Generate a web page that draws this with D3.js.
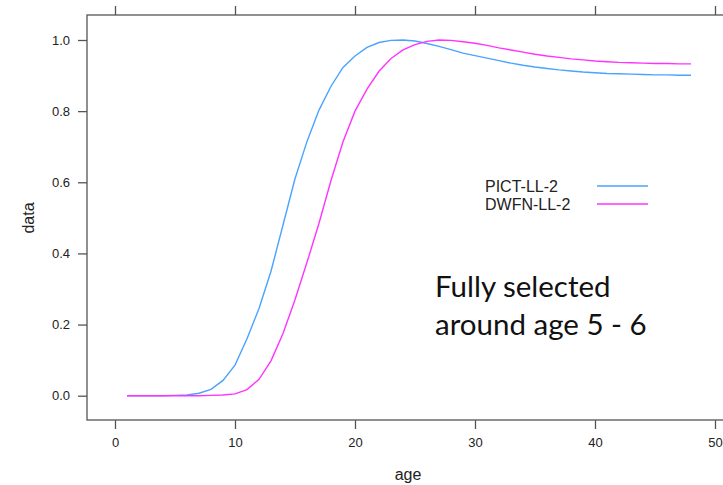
<!DOCTYPE html>
<html>
<head>
<meta charset="utf-8">
<script src="https://cdn.jsdelivr.net/npm/d3@7"></script>
<style>
  body { margin: 0; background: #fff; }
  svg { display: block; }
</style>
</head>
<body>
<div id="chart"></div>
<script>
// ages 1..48
var ages = d3.range(1, 49);

var pictValues = [
  0, 0, 0, 0, 0.001, 0.002, 0.007, 0.018, 0.043, 0.086,
  0.16, 0.245, 0.35, 0.48, 0.61, 0.715, 0.803, 0.87, 0.923, 0.955,
  0.979, 0.993, 0.999, 1.0, 0.997, 0.99, 0.982, 0.973, 0.963, 0.956,
  0.949, 0.942, 0.935, 0.929, 0.924, 0.92, 0.916, 0.913, 0.91, 0.908,
  0.906, 0.905, 0.904, 0.903, 0.902, 0.902, 0.901, 0.901
];

var dwfnValues = [
  0, 0, 0, 0, 0, 0, 0, 0.001, 0.002, 0.005,
  0.017, 0.046, 0.098, 0.175, 0.27, 0.375, 0.485, 0.605, 0.714, 0.8,
  0.862, 0.912, 0.948, 0.972, 0.987, 0.996, 1.0, 0.999, 0.995, 0.991,
  0.985, 0.978, 0.972, 0.966, 0.96, 0.955, 0.951, 0.947, 0.944, 0.941,
  0.939, 0.937, 0.936, 0.935, 0.934, 0.934, 0.933, 0.933
];

var seriesNames = ["PICT-LL-2", "DWFN-LL-2"];
var seriesColors = ["#4aa3ff", "#ff33ff"];
var xTicks = [0, 10, 20, 30, 40, 50];
var yTicks = [0.0, 0.2, 0.4, 0.6, 0.8, 1.0];
var noteLines = ["Fully selected", "around age 5 - 6"];

var width = 723, height = 485;
var box = {left: 87, top: 15, right: 745, bottom: 420};

var x = d3.scaleLinear().domain([0, 50]).range([115, 715]);
var y = d3.scaleLinear().domain([0, 1]).range([395.7, 40]);

var svg = d3.select("#chart").append("svg")
    .attr("width", width)
    .attr("height", height);

var axisColor = "#555";
var labelFont = "Liberation Sans, Arial, sans-serif";

// panel border
svg.append("rect")
    .attr("x", box.left)
    .attr("y", box.top)
    .attr("width", box.right - box.left)
    .attr("height", box.bottom - box.top)
    .style("fill", "none")
    .style("stroke", axisColor)
    .style("stroke-width", 1.3);

// bottom axis with labels
var bottomAxis = svg.append("g")
    .attr("transform", "translate(0," + box.bottom + ")")
    .call(d3.axisBottom(x).tickValues(xTicks).tickSize(9).tickPadding(9).tickFormat(d3.format("d")));

// top axis, ticks only
var topAxis = svg.append("g")
    .attr("transform", "translate(0," + box.top + ")")
    .call(d3.axisTop(x).tickValues(xTicks).tickSize(9).tickFormat(""));

// left axis
var leftAxis = svg.append("g")
    .attr("transform", "translate(" + box.left + ",0)")
    .call(d3.axisLeft(y).tickValues(yTicks).tickSize(9).tickPadding(8).tickFormat(d3.format(".1f")));

[bottomAxis, topAxis, leftAxis].forEach(function (g) {
    g.select(".domain").remove();
    g.selectAll(".tick line").style("stroke", axisColor).style("stroke-width", 1.3);
    g.selectAll(".tick text")
        .style("font-family", labelFont)
        .style("font-size", "13px")
        .style("fill", "#222");
});

// axis titles
svg.append("text")
    .attr("x", 408)
    .attr("y", 480)
    .attr("text-anchor", "middle")
    .style("font-family", labelFont)
    .style("font-size", "16px")
    .style("fill", "#222")
    .text("age");

svg.append("text")
    .attr("transform", "translate(34,218) rotate(-90)")
    .attr("text-anchor", "middle")
    .style("font-family", labelFont)
    .style("font-size", "16px")
    .style("fill", "#222")
    .text("data");

// curves
var seriesValues = [pictValues, dwfnValues];
var line = d3.line()
    .x(function (d, i) { return x(ages[i]); })
    .y(function (d) { return y(d); });

seriesValues.forEach(function (vals, k) {
    svg.append("path")
        .datum(vals)
        .attr("d", line)
        .style("fill", "none")
        .style("stroke", seriesColors[k])
        .style("stroke-width", 1.4);
});

// legend
seriesNames.forEach(function (name, k) {
    var ly = 186 + k * 18;
    svg.append("text")
        .attr("x", 485)
        .attr("y", ly + 6)
        .style("font-family", labelFont)
        .style("font-size", "16px")
        .style("fill", "#222")
        .text(name);
    svg.append("line")
        .attr("x1", 597)
        .attr("x2", 648)
        .attr("y1", ly)
        .attr("y2", ly)
        .style("stroke", seriesColors[k])
        .style("stroke-width", 1.4);
});

// annotation
svg.selectAll(".note").data(noteLines).enter().append("text")
    .classed("note", true)
    .attr("x", 435)
    .attr("y", function (d, i) { return 297 + i * 38; })
    .style("font-family", "Lato, sans-serif")
    .style("font-size", "29.5px")
    .style("fill", "#111")
    .text(function (d) { return d; });
</script>
</body>
</html>
